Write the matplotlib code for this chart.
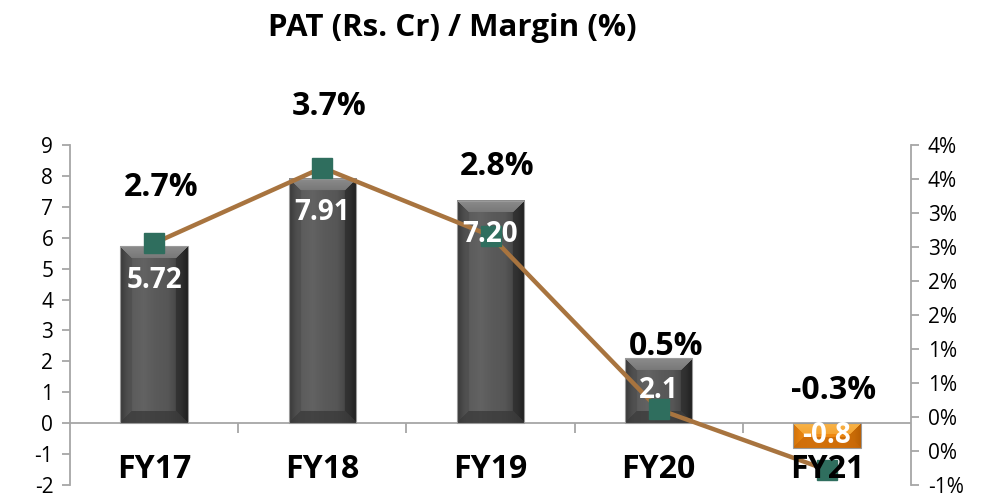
import numpy as np
import matplotlib
matplotlib.use('Agg')
import matplotlib.pyplot as plt

plt.rcParams['font.family'] = ['Open Sans', 'DejaVu Sans']
plt.rcParams['axes.unicode_minus'] = False

years = ['FY17', 'FY18', 'FY19', 'FY20', 'FY21']
pat = [5.72, 7.91, 7.20, 2.1, -0.8]
pat_labels = ['5.72', '7.91', '7.20', '2.1', '-0.8']
margin = [2.7, 3.7, 2.8, 0.5, -0.3]
margin_labels = ['2.7%', '3.7%', '2.8%', '0.5%', '-0.3%']
left_ticks = list(range(-2, 10))
right_ticks = np.linspace(-0.5, 4.0, 11)
right_tick_labels = ['-1%', '0%', '0%', '1%', '1%', '2%', '2%', '3%', '3%', '4%', '4%']

W, H, DPI = 987, 494, 100
fig = plt.figure(figsize=(W / DPI, H / DPI), dpi=DPI)
ax = fig.add_axes([70 / W, 1 - 485 / H, (911 - 70) / W, (485 - 145) / H])
ax2 = ax.twinx()

xlim = (-0.5, len(years) - 0.5)
ylim = (-2, 9)
bw = 0.4
gray = '#a6a6a6'

# pixels per data unit, used to size the bevel
sx = (911 - 70) / (xlim[1] - xlim[0])
sy = (485 - 145) / (ylim[1] - ylim[0])


def bevel_img(wpx, hpx, body, edge, top, bottom, bev=12):
    body = np.array(matplotlib.colors.to_rgb(body))
    edge = np.array(matplotlib.colors.to_rgb(edge))
    top = np.array(matplotlib.colors.to_rgb(top))
    bottom = np.array(matplotlib.colors.to_rgb(bottom))
    X, Y = np.meshgrid(np.arange(wpx) + 0.5, np.arange(hpx) + 0.5)
    u = X / wpx
    # horizontal shading of the face
    k = np.interp(u, [0, 0.12, 0.35, 0.7, 0.9, 1], [0.4, 0.0, -0.05, 0.05, 0.4, 0.8])
    img = np.where(k[..., None] >= 0,
                   body * (1 - k[..., None]) + edge * k[..., None],
                   body * (1 + k[..., None]) + np.ones(3) * (-k[..., None]))
    d = np.stack([Y, hpx - Y, X, wpx - X])
    b = min(bev, wpx / 3, hpx / 2.2)
    which = np.argmin(d, axis=0)
    m = d.min(axis=0) < b
    t = np.clip(d.min(axis=0) / b, 0, 1)[..., None]
    fac_top = top * (1 - t) + (top * 0.6 + body * 0.4) * t
    img = np.where((m & (which == 0))[..., None], fac_top, img)
    img = np.where((m & (which == 1))[..., None], bottom * 0.7 + img * 0.3, img)
    img = np.where((m & (which == 2))[..., None], img * 0.85 + edge * 0.15, img)
    img = np.where((m & (which == 3))[..., None], img * 0.6 + edge * 0.4, img)
    return np.clip(img, 0, 1)


for i, v in enumerate(pat):
    x0, x1 = i - bw / 2, i + bw / 2
    y0, y1 = min(0, v), max(0, v)
    wpx = int(round(bw * sx))
    hpx = max(int(round((y1 - y0) * sy)), 4)
    if v >= 0:
        img = bevel_img(wpx, hpx, '#5a5a5a', '#161616', '#8c8c8c', '#363636')
    else:
        img = bevel_img(wpx, hpx, '#f08a12', '#b05800', '#f8b448', '#c46406')
    ax.imshow(img, extent=[x0, x1, y0, y1], aspect='auto', zorder=2,
              interpolation='bilinear')
    ax.bar(i, v, width=bw, facecolor='none', edgecolor='#9a9a9a', lw=0.8, zorder=2.5)

ax.set_xlim(*xlim)
ax.set_ylim(*ylim)
ax.set_yticks(left_ticks)
ax.set_xticks([])
ax.axhline(0, color=gray, lw=1.3, zorder=1)
ax.vlines(np.arange(len(years) - 1) + 0.5, -0.33, 0, color=gray, lw=1.3, zorder=1)
for s in ['top', 'right', 'bottom']:
    ax.spines[s].set_visible(False)
ax.spines['left'].set_color(gray)
ax.spines['left'].set_linewidth(1.3)
ax.tick_params(axis='y', colors=gray, labelcolor='black', labelsize=15, length=6, width=1.3, pad=6)

ax2.plot(range(len(years)), margin, color='#a8743f', lw=3.2, marker='s', ms=15,
         mfc='#2f6e5e', mec='#2f6e5e', zorder=3)
ax2.set_ylim(-0.5, 4.0)
ax2.set_yticks(right_ticks)
ax2.set_yticklabels(right_tick_labels)
for s in ['top', 'left', 'bottom']:
    ax2.spines[s].set_visible(False)
ax2.spines['right'].set_color(gray)
ax2.spines['right'].set_linewidth(1.3)
ax2.tick_params(axis='y', colors=gray, labelcolor='black', labelsize=15, length=6, width=1.3, pad=6)

# bar value labels (on top of line and markers)
for i, (v, s) in enumerate(zip(pat, pat_labels)):
    y = v - np.sign(v) * min(1.1, abs(v) / 2)
    ax2.text(i, y, s, transform=ax.transData, ha='center', va='center',
             color='white', fontsize=20, fontweight='bold', zorder=6)

# margin labels
m_off = [40, 44, 50, 45, 57]
for i, (v, s, o) in enumerate(zip(margin, margin_labels, m_off)):
    ax2.annotate(s, (i, v), xytext=(5, o), textcoords='offset points', ha='center',
                 va='center', fontsize=23, fontweight='bold', color='black', zorder=6)

# category labels just under the zero line
for i, s in enumerate(years):
    ax2.annotate(s, (i, 0), xycoords=ax.transData, xytext=(0, -33), textcoords='offset points',
                 ha='center', va='center', fontsize=23, fontweight='bold', color='black', zorder=6)

fig.text(452 / W, 1 - 28 / H, 'PAT (Rs. Cr) / Margin (%)', ha='center', va='center',
         fontsize=22.5, fontweight='bold')

plt.savefig('out.png', dpi=DPI)
